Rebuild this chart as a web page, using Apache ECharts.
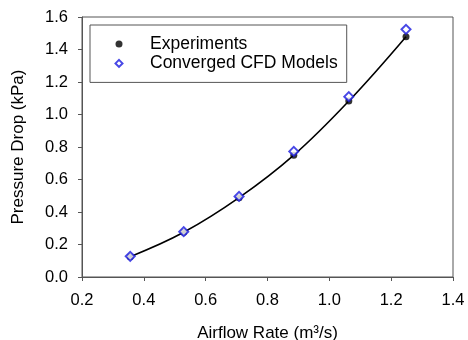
<!DOCTYPE html>
<html>
<head>
<meta charset="utf-8">
<script src="https://cdn.jsdelivr.net/npm/echarts@6/dist/echarts.min.js"></script>
<style>html,body{margin:0;padding:0;background:#fff}#c{width:468px;height:340px}</style>
</head>
<body>
<div id="c"></div>
<script>
const airflow = [0.356, 0.529, 0.708, 0.885, 1.063, 1.248];
const experiments = [0.125, 0.275, 0.488, 0.750, 1.083, 1.479];
const cfdModels = [0.127, 0.279, 0.496, 0.773, 1.110, 1.524];
const xTicks = [0.2, 0.4, 0.6, 0.8, 1.0, 1.2, 1.4];
const yTicks = [0.0, 0.2, 0.4, 0.6, 0.8, 1.0, 1.2, 1.4, 1.6];

const pair = (xs, ys) => xs.map((x, i) => [x, ys[i]]);
const font = 'Liberation Sans, Arial, sans-serif';
const frame = '#555';
const blue = '#1a1ae0';

const chart = echarts.init(document.getElementById('c'), null, {renderer: 'canvas'});
chart.setOption({
  animation: false,
  backgroundColor: '#fff',
  textStyle: {fontFamily: font},
  grid: {left: 82, right: 15, top: 17, bottom: 63, show: true, borderColor: frame, borderWidth: 1,
         backgroundColor: 'transparent', containLabel: false, outerBoundsMode: 'none'},
  legend: {
    data: [
      {name: 'Experiments', icon: 'circle'},
      {name: 'Converged CFD Models', icon: 'path://M0,-1L1,0L0,1L-1,0Z'}
    ],
    orient: 'vertical',
    left: 90, top: 25,
    padding: [10, 9, 10, 24.5],
    borderColor: frame, borderWidth: 1,
    itemWidth: 7, itemHeight: 7,
    symbolKeepAspect: true,
    itemGap: 1.4,
    textStyle: {fontFamily: font, fontSize: 17.5, color: '#000', lineHeight: 18, padding: [0, 0, 0, 22.5]}
  },
  xAxis: {
    type: 'value', min: xTicks[0], max: xTicks[xTicks.length - 1], interval: 0.2,
    name: 'Airflow Rate (m³/s)', nameLocation: 'middle', nameGap: 47.5,
    nameTextStyle: {fontFamily: font, fontSize: 17, color: '#000'},
    axisLine: {show: true, lineStyle: {color: frame, width: 1}},
    axisTick: {show: true, inside: false, length: 4, lineStyle: {color: frame}},
    axisLabel: {fontFamily: font, fontSize: 16.5, color: '#000', margin: 15, formatter: v => v.toFixed(1)},
    splitLine: {show: false}
  },
  yAxis: {
    type: 'value', min: yTicks[0], max: yTicks[yTicks.length - 1], interval: 0.2,
    name: 'Pressure Drop (kPa)', nameLocation: 'middle', nameGap: 55,
    nameTextStyle: {fontFamily: font, fontSize: 17, color: '#000'},
    axisLine: {show: true, lineStyle: {color: frame, width: 1}},
    axisTick: {show: true, inside: false, length: 4, lineStyle: {color: frame}},
    axisLabel: {fontFamily: font, fontSize: 16.5, color: '#000', margin: 14, formatter: v => v.toFixed(1)},
    splitLine: {show: false}
  },
  series: [
    {
      name: 'fit', type: 'line', data: pair(airflow, experiments), smooth: 0.4,
      showSymbol: false, symbol: 'none', lineStyle: {color: '#000', width: 1.6}, z: 1, silent: true
    },
    {
      name: 'Experiments', type: 'scatter', data: pair(airflow, experiments),
      symbol: 'circle', symbolSize: 7, itemStyle: {color: '#000'}, z: 2
    },
    {
      name: 'Converged CFD Models', type: 'scatter', data: pair(airflow, cfdModels),
      symbol: 'diamond', symbolSize: 9,
      itemStyle: {color: '#fff', borderColor: blue, borderWidth: 2}, z: 3
    }
  ]
});
</script>
</body>
</html>
